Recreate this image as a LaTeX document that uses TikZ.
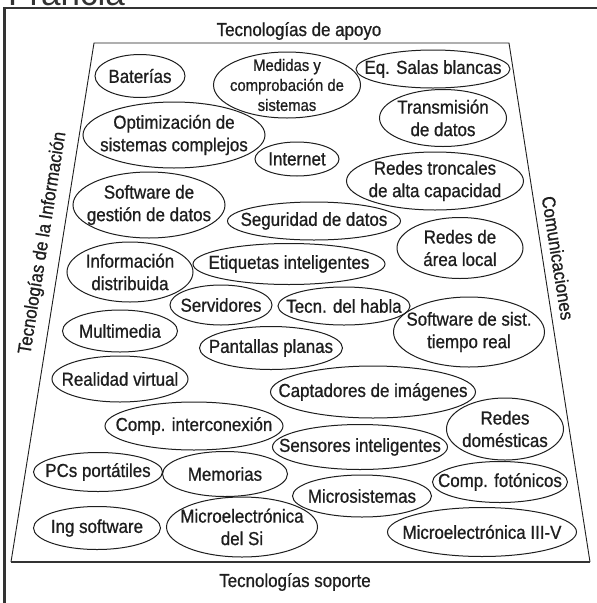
\documentclass[tikz,border=0pt]{standalone}
\usepackage{fontspec}
\setmainfont{Liberation Sans}[FakeStretch=0.9,FakeBold=0.8]
\newfontfamily\plainsans{Liberation Sans}
\usetikzlibrary{shapes.geometric}
\definecolor{ink}{HTML}{1E1E1E}
\definecolor{framecol}{HTML}{333333}
\newcommand\bigtxt{\fontsize{18.8}{22.5}\selectfont}
\newcommand\smalltxt{\fontsize{16.5}{20}\selectfont}
\tikzset{
  bub/.style={draw=ink, line width=1pt, ellipse, inner sep=0pt},
  txt/.style={inner sep=0pt, align=center, text=ink, font=\bigtxt},
  side/.style={inner sep=0pt, text=ink, font=\bigtxt},
}
\newcommand\bubble[6]{%
  \node[bub, minimum width=#4pt, minimum height=#5pt] (#1) at (#2,#3) {};
  \node[txt] (#1-t) at (#1.center) {#6};}
\begin{document}
\begin{tikzpicture}[x=1pt,y=-1pt]
\useasboundingbox (0,0) rectangle (597,603);
\clip (0,0) rectangle (597,603);
\fill[white] (0,0) rectangle (597,603);
% title fragment
\node[anchor=base west, inner sep=0pt, text=framecol, font=\plainsans\fontsize{35}{40}\selectfont] (title) at (8,5) {Francia};
% outer frame
\draw[framecol, line width=2.4pt] (4.5,640) -- (4.5,8) -- (640,8);
% trapezoid
\coordinate (tl) at (94,43);
\coordinate (tr) at (509,43);
\coordinate (br) at (590,562);
\coordinate (bl) at (11,562);
\draw[ink, line width=0.9pt] (bl) -- (tl) -- (tr) -- (br);
\draw[framecol, line width=1.8pt] (bl) -- (br);
% side labels
\node[side, anchor=base] (top) at (299,36) {Tecnologías de apoyo};
\node[side, anchor=base] (bot) at (295,587) {Tecnologías soporte};
\node[side, rotate=81] (left) at (43,243) {Tecnologías de la Información};
\node[side, rotate=-81] (right) at (558,258) {Comunicaciones};
% bubbles
\bubble{bat}{140}{76}{90}{43}{Baterías}
\node[bub, minimum width=147pt, minimum height=66pt] (med) at (287,85) {};
\node[txt, font=\smalltxt] (med-t) at (med.center) {Medidas y\\comprobación de\\sistemas};
\bubble{eqs}{433}{69}{154}{38}{Eq. Salas blancas}
\bubble{tra}{443}{118}{127}{57}{Transmisión\\de datos}
\bubble{opt}{174}{135}{182}{66}{Optimización de\\sistemas complejos}
\bubble{int}{297}{159}{84}{34}{Internet}
\bubble{rtr}{435}{181}{177}{58}{Redes troncales\\de alta capacidad}
\bubble{sgd}{149}{205}{152}{66}{Software de\\gestión de datos}
\bubble{seg}{314}{221}{173}{38}{Seguridad de datos}
\bubble{ral}{460}{248}{126}{61}{Redes de\\área local}
\bubble{inf}{130}{272}{126}{60}{Información\\distribuida}
\bubble{eti}{289}{264}{192}{41}{Etiquetas inteligentes}
\bubble{ser}{221}{305}{102}{40}{Servidores}
\bubble{tec}{344}{306}{132}{38}{Tecn. del habla}
\bubble{str}{469}{332}{151}{70}{Software de sist.\\tiempo real}
\bubble{mul}{120}{331}{115}{42}{Multimedia}
\bubble{pan}{271}{348}{143}{43}{Pantallas planas}
\bubble{rea}{120}{379}{136}{46}{Realidad virtual}
\bubble{cap}{373}{392}{205}{52}{Captadores de imágenes}
\bubble{cin}{194}{426}{178}{48}{Comp. interconexión}
\bubble{sen}{360}{447}{175}{45}{Sensores inteligentes}
\bubble{rdo}{505}{429}{117}{62}{Redes\\domésticas}
\bubble{pcs}{98}{472}{129}{39}{PCs portátiles}
\bubble{mem}{225}{474}{125}{45}{Memorias}
\bubble{mis}{362}{496}{139}{42}{Microsistemas}
\bubble{cfo}{500}{482}{135}{41}{Comp. fotónicos}
\bubble{ing}{97}{528}{127}{43}{Ing software}
\bubble{msi}{242}{527}{151}{60}{Microelectrónica\\del Si}
\bubble{mtv}{482}{532}{189}{49}{Microelectrónica III-V}
\end{tikzpicture}
\end{document}
